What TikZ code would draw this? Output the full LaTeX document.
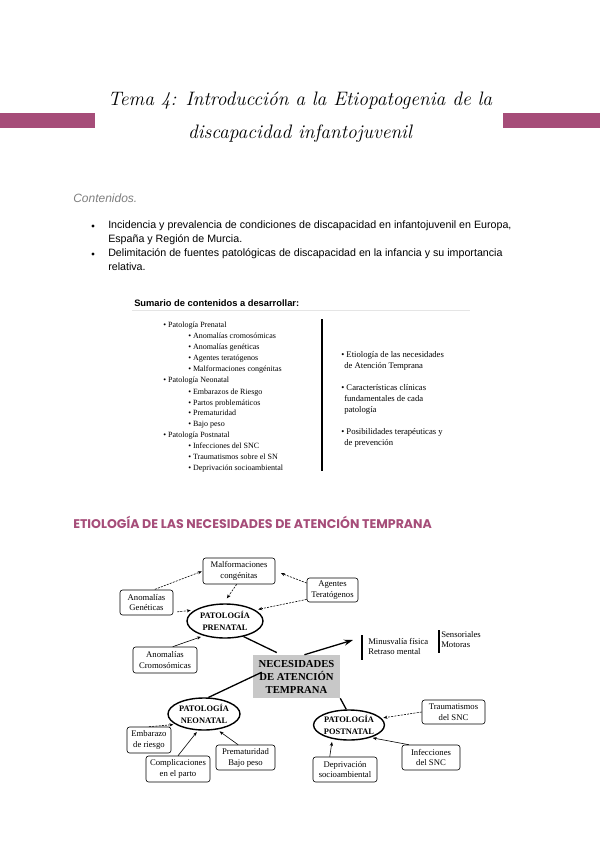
\documentclass[tikz,border=0pt]{standalone}
\usepackage{fontspec}
\usepackage{graphicx}
\newfontfamily\tms{Liberation Serif}
\newfontfamily\arl{Liberation Sans}
\newfontfamily\hdf{Poppins}
\usetikzlibrary{shapes.geometric,arrows.meta}
\definecolor{plum}{HTML}{A64D79}
\definecolor{boxgray}{HTML}{C8C8C8}
\newdimen\pxu \pxu=0.75pt
\tikzset{
  body/.style={anchor=base west, inner sep=0, font=\arl\fontsize{8}{10}\selectfont},
  sumtxt/.style={anchor=base west, inner sep=0, font=\tms\fontsize{6}{7}\selectfont},
  sumtxtr/.style={anchor=base west, inner sep=0, font=\tms\fontsize{6.5}{7.5}\selectfont},
  dbox/.style={draw, rounded corners=1.9pt, line width=0.45pt, fill=white, inner sep=0, align=center, font=\tms\fontsize{6.5}{8.2}\selectfont},
  pell/.style={draw, ellipse, line width=1.05pt, inner sep=0, align=center, font=\tms\bfseries\fontsize{6.3}{9}\selectfont},
  dtxt/.style={anchor=base west, inner sep=0, font=\tms\fontsize{6.5}{7.5}\selectfont},
  dasharr/.style={line width=0.45pt, dash pattern=on 1.5pt off 0.9pt, -{Stealth[length=3pt,width=2.4pt]}},
  solarr/.style={line width=0.45pt, -{Stealth[length=3pt,width=2.4pt]}},
  bigline/.style={line width=0.975pt},
  titletxt/.style={anchor=base, inner sep=0, font=\fontsize{14.6}{16}\selectfont\itshape},
}
\begin{document}
\begin{tikzpicture}[x=0.75pt,y=-0.75pt]
\useasboundingbox (0,0) rectangle (600,848);
\fill[white] (0,0) rectangle (600,848);

% title
\fill[plum] (0,113) rectangle (95,128);
\fill[plum] (503,113) rectangle (600,128);
\node[titletxt] (t1) at (300,106) {Tema 4: Introducción a la Etiopatogenia de la};
\node[titletxt] (t2) at (300,139) {discapacidad infantojuvenil};

% contenidos
\node[anchor=base west, inner sep=0, font=\arl\itshape\fontsize{9}{11}\selectfont, text=black!50] (cont) at (73,203) {Contenidos.};
\fill (93,226) circle (1.7);
\fill (93,254) circle (1.7);
\node[body] (b1) at (108,229) {Incidencia y prevalencia de condiciones de discapacidad en infantojuvenil en Europa,};
\node[body] (b2) at (108,243) {España y Región de Murcia.};
\node[body] (b3) at (108,257) {Delimitación de fuentes patológicas de discapacidad en la infancia y su importancia};
\node[body] (b4) at (108,271) {relativa.};

% sumario
\node[anchor=base west, inner sep=0, font=\arl\bfseries\fontsize{7}{8}\selectfont] (sum) at (134,306) {Sumario de contenidos a desarrollar:};
\draw[black!10, line width=0.6pt] (132,310) -- (470,310);
\draw[line width=0.9pt] (322,319) -- (322,471);
\foreach \y/\x/\t [count=\i] in {
  325/163/{• Patología Prenatal},
  336/188/{• Anomalías cromosómicas},
  347/188/{• Anomalías genéticas},
  358/188/{• Agentes teratógenos},
  369/188/{• Malformaciones congénitas},
  380/163/{• Patología Neonatal},
  392/188/{• Embarazos de Riesgo},
  403/188/{• Partos problemáticos},
  413/188/{• Prematuridad},
  424/188/{• Bajo peso},
  435/163/{• Patología Postnatal},
  446/188/{• Infecciones del SNC},
  457/188/{• Traumatismos sobre el SN},
  468/188/{• Deprivación socioambiental}}
  \node[sumtxt] (sl\i) at (\x,\y+2) {\t};
\foreach \y/\x/\t [count=\i] in {
  355/341/{• Etiología de las necesidades},
  366/344/{de Atención Temprana},
  388/341/{• Características clínicas},
  399/344/{fundamentales de cada},
  410/344/{patología},
  432/341/{• Posibilidades terapéuticas y},
  443/344/{de prevención}}
  \node[sumtxtr] (sr\i) at (\x,\y+2) {\t};

% heading
\node[anchor=base west, inner sep=0, font=\hdf\bfseries\fontsize{9}{11}\selectfont, text=plum] (head) at (73,528) {\resizebox{269pt}{!}{ETIOLOGÍA DE LAS NECESIDADES DE ATENCIÓN TEMPRANA}};

% diagram
\node[dbox, minimum width=72\pxu, minimum height=26\pxu] (malf) at (239,571) {Malformaciones\\congénitas};
\node[dbox, minimum width=53\pxu, minimum height=25\pxu] (anomgen) at (146.5,602.5) {Anomalías\\Genéticas};
\node[dbox, minimum width=51\pxu, minimum height=24\pxu] (agentes) at (332.5,590) {Agentes\\Teratógenos};
\node[pell, minimum width=76\pxu, minimum height=34\pxu] (prenatal) at (225,621) {PATOLOGÍA\\PRENATAL};
\node[dbox, minimum width=64\pxu, minimum height=26\pxu] (cromos) at (165,660) {Anomalías\\Cromosómicas};
\node[fill=boxgray, minimum width=87\pxu, minimum height=43\pxu, inner sep=0, align=center, font=\tms\bfseries\fontsize{8}{9.75}\selectfont] (central) at (296.5,676.5) {NECESIDADES\\DE ATENCIÓN\\TEMPRANA};
\node[pell, minimum width=72\pxu, minimum height=32\pxu] (neonatal) at (204,714) {PATOLOGÍA\\NEONATAL};
\node[dbox, minimum width=44\pxu, minimum height=26\pxu] (embarazo) at (149,740) {Embarazo\\de riesgo};
\node[dbox, minimum width=64\pxu, minimum height=26\pxu] (complic) at (178,769) {Complicaciones\\en el parto};
\node[dbox, minimum width=59\pxu, minimum height=25\pxu] (premat) at (245.5,757.5) {Prematuridad\\Bajo peso};
\node[pell, minimum width=70\pxu, minimum height=30\pxu] (postnatal) at (349,725) {PATOLOGÍA\\POSTNATAL};
\node[dbox, minimum width=63\pxu, minimum height=24\pxu] (trauma) at (453.5,712) {Traumatismos\\del SNC};
\node[dbox, minimum width=58\pxu, minimum height=25\pxu] (infec) at (431,757.5) {Infecciones\\del SNC};
\node[dbox, minimum width=64\pxu, minimum height=25\pxu] (depriv) at (345,769.5) {Deprivación\\socioambiental};

% right side texts
\coordinate (needtip) at (353,640);
\draw[line width=1.05pt] (362,635) -- (362,660);
\node[dtxt] (minus) at (368,644.5) {Minusvalía física};
\node[dtxt] (retraso) at (368,654.5) {Retraso mental};
\draw[line width=0.9pt] (439,630) -- (439,653);
\node[dtxt] (senso) at (441,637.5) {Sensoriales};
\node[dtxt] (motoras) at (441,647.5) {Motoras};

% connectors prenatal
\draw[dasharr, shorten <=0.75pt, shorten >=0.75pt] (anomgen.60) -- (malf.west);
\draw[dasharr, shorten >=4.5pt] (agentes.165) -- (malf.east);
\draw[dasharr, shorten >=2.25pt] (agentes.200) -- (prenatal.20);
\draw[dasharr, shorten >=4.5pt] (malf.260) -- (prenatal.95);
\draw[dasharr, shorten <=3pt, shorten >=3pt] (anomgen.-20) -- (prenatal.160);
\draw[solarr, shorten >=2.25pt] (cromos.60) -- (prenatal.215);
% central
\draw[bigline, shorten >=3.75pt] (prenatal.-40) -- (central.125);
\draw[bigline, -{Stealth[length=6.75pt,width=4.5pt]}] (central.70) -- (needtip);
\draw[bigline, shorten <=-7.5pt] (central.west) -- (neonatal.75);
\draw[bigline] (central.south east) -- (postnatal.100);
% neonatal
\draw[dasharr, shorten >=1.5pt] (embarazo.north) -- (neonatal.200);
\draw[solarr, shorten >=1.5pt] (complic.north) -- (neonatal.250);
\draw[solarr, shorten >=2.25pt] (premat.120) -- (neonatal.-50);
% postnatal
\draw[dasharr, shorten >=1.5pt] (trauma.west) -- (postnatal.12);
\draw[solarr, shorten >=1.5pt] (infec.150) -- (postnatal.-30);
\draw[solarr, shorten >=2.25pt] (depriv.140) -- (postnatal.220);
\end{tikzpicture}
\end{document}
